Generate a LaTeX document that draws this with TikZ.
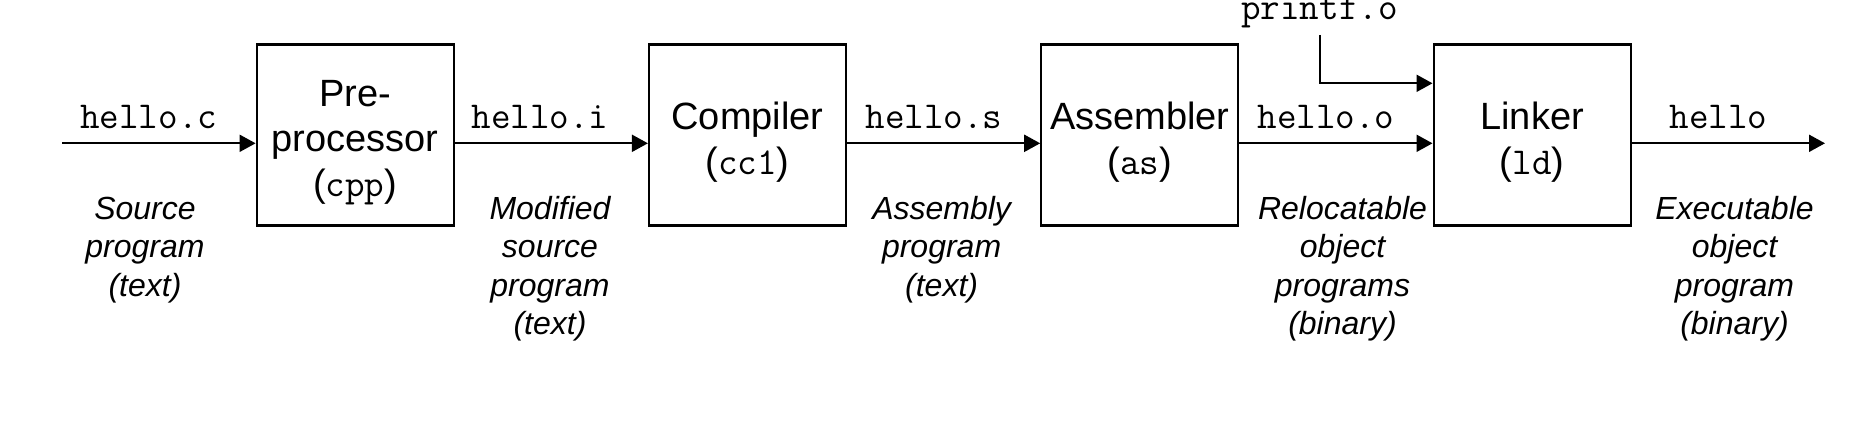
\documentclass[tikz,border=0pt]{standalone}
\usepackage{fontspec}
\setmainfont{Liberation Sans}
\usetikzlibrary{arrows.meta}
\begin{document}
\begin{tikzpicture}[x=0.5pt,y=-0.5pt,
  stage/.style={draw, line width=1.1pt, minimum width=98.5pt, minimum height=90.5pt, inner sep=0pt},
  stagetext/.style={align=center, font=\fontsize{19}{22.5}\selectfont, inner sep=0pt},
  file/.style={font=\ttfamily\fontsize{19}{22}\selectfont, anchor=base, inner sep=0pt},
  desc/.style={align=center, font=\itshape\fontsize{16}{19.25}\selectfont, anchor=base, inner sep=0pt},
  flow/.style={line width=1pt, -{Triangle[length=8pt,width=8.5pt]}}]
\useasboundingbox (0,0) rectangle (1868,444);

% stages
\node[stage] (pp) at (355.2,135) {};
\node[stage] (cc) at (747.5,135) {};
\node[stage] (as) at (1139.8,135) {};
\node[stage] (ld) at (1532.1,135) {};
\node[stagetext] (ppt) at (355.2,142.5) {Pre-\\processor\\(\texttt{cpp})};
\node[stagetext] (cct) at (747.5,142.5) {Compiler\\(\texttt{cc1})};
\node[stagetext] (ast) at (1139.8,142.5) {Assembler\\(\texttt{as})};
\node[stagetext] (ldt) at (1532.1,142.5) {Linker\\(\texttt{ld})};

% connectors
\coordinate (in) at (62,143.3);
\coordinate (out) at (1825,143.3);
\coordinate (pf) at (1319.5,35);
\coordinate (pfc) at (1319.5,83.3);
\draw[flow] (in) -- (in -| pp.west);
\draw[flow] (pp.east |- in) -- (cc.west |- in);
\draw[flow] (cc.east |- in) -- (as.west |- in);
\draw[flow] (as.east |- in) -- (ld.west |- in);
\draw[flow] (ld.east |- in) -- (out);
\draw[flow] (pf) -- (pfc) -- (pfc -| ld.west);

% file names
\node[file] (fc) at (148.7,128.5) {hello.c};
\node[file] (fi) at (540,128.5) {hello.i};
\node[file] (fs) at (934,128.5) {hello.s};
\node[file] (fo) at (1326,128.5) {hello.o};
\node[file] (fe) at (1718.5,128.5) {hello};
\node[file] (fp) at (1319.5,19.5) {printf.o};

% descriptions (base anchor = last line)
\node[desc] (dc) at (145,296) {Source\\program\\(text)};
\node[desc] (di) at (550,334.5) {Modified\\source\\program\\(text)};
\node[desc] (ds) at (941.6,296) {Assembly\\program\\(text)};
\node[desc] (do) at (1342.5,334.5) {Relocatable\\object\\programs\\(binary)};
\node[desc] (de) at (1734.5,334.5) {Executable\\object\\program\\(binary)};
\end{tikzpicture}
\end{document}
